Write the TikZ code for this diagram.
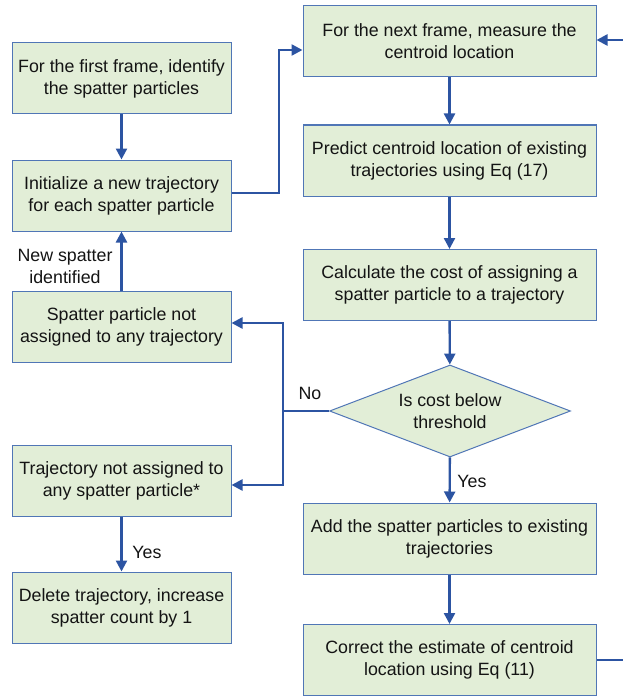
\documentclass[tikz,border=0pt]{standalone}
\usepackage{fontspec}
\setmainfont{Liberation Sans}
\usetikzlibrary{arrows.meta,shapes.geometric}
\definecolor{boxfill}{RGB}{226,238,215}
\definecolor{boxline}{RGB}{80,118,182}
\definecolor{arrowcol}{RGB}{44,84,162}
\begin{document}
\begin{tikzpicture}[x=1pt,y=-1pt,
  every node/.style={font=\fontsize{17.8}{22}\selectfont, text=black!92},
  box/.style={draw=boxline, fill=boxfill, line width=1pt, inner sep=0pt, align=center, minimum height=71pt},
  lbox/.style={box, minimum width=219pt},
  rbox/.style={box, minimum width=293pt},
  dec/.style={diamond, draw=boxline, fill=boxfill, line width=1pt, inner sep=0pt, align=center, aspect=2.62, minimum width=241pt, minimum height=92pt},
  arr/.style={draw=arrowcol, line width=2.4pt, -{Triangle[length=11pt,width=11pt]}},
  ln/.style={draw=arrowcol, line width=2.4pt},
  lbl/.style={align=center, inner sep=0pt}]
\useasboundingbox (0,0) rectangle (623,698);
% left column
\node[lbox] (A) at (121.5,78.5) {For the first frame, identify\\the spatter particles};
\node[lbox] (B) at (121.5,195.5) {Initialize a new trajectory\\for each spatter particle};
\node[lbox] (C) at (121.5,327) {Spatter particle not\\assigned to any trajectory};
\node[lbox] (D) at (121.5,480.5) {Trajectory not assigned to\\any spatter particle*};
\node[lbox] (E) at (121.5,607.5) {Delete trajectory, increase\\spatter count by 1};
% right column
\node[rbox] (F) at (449.5,41.5) {For the next frame, measure the\\centroid location};
\node[rbox] (G) at (449.5,160.5) {Predict centroid location of existing\\trajectories using Eq (17)};
\node[rbox] (H) at (449.5,285) {Calculate the cost of assigning a\\spatter particle to a trajectory};
\node[dec] (K) at (450,411) {Is cost below\\threshold};
\node[rbox] (I) at (449.5,538.5) {Add the spatter particles to existing\\trajectories};
\node[rbox] (J) at (449.5,660) {Correct the estimate of centroid\\location using Eq (11)};
% junction coordinates
\coordinate (jB) at (279,193);
\coordinate (jK) at (283,411);
\coordinate (jJ) at (640,660);
% connectors
\draw[arr] (A) -- (B);
\draw[arr] (C) -- (B);
\draw[arr] (D) -- (E);
\draw[arr] (F) -- (G);
\draw[arr] (G) -- (H);
\draw[arr] (H) -- (K);
\draw[arr] (K) -- (I);
\draw[arr] (I) -- (J);
\draw[arr] (B.east |- jB) -- (jB) |- ([yshift=-8.5pt]F.west);
\draw[arr] (J.east) -- (jJ) |- ([yshift=1.5pt]F.east);
\draw[ln] (K.west) -- (jK);
\draw[arr] (jK) |- ([yshift=4pt]C.east);
\draw[arr] (jK) |- ([yshift=-4.5pt]D.east);
% labels
\node[lbl] (nNew) at (65,266) {New spatter\\identified};
\node[lbl] (nNo) at (310,393) {No};
\node[lbl] (nYes1) at (147,552) {Yes};
\node[lbl] (nYes2) at (472,481) {Yes};
\end{tikzpicture}
\end{document}
